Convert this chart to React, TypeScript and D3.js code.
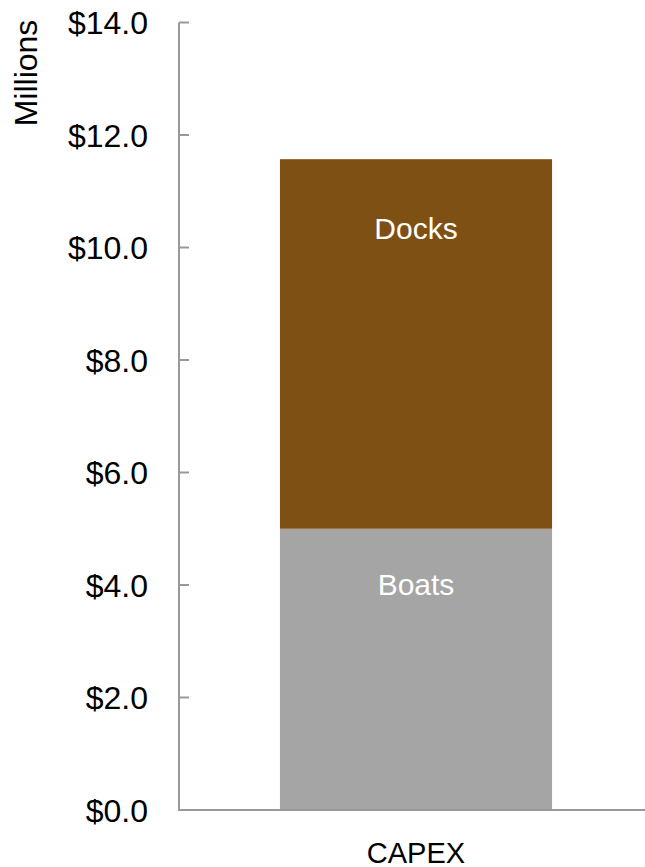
import React from "react";
import * as d3 from "d3";

const categories = ["CAPEX"];
const seriesNames = ["Boats", "Docks"];
const boatsValues = [5.0];
const docksValues = [6.57];
const yTicks = [0, 2, 4, 6, 8, 10, 12, 14];
const seriesColors = ["#A5A5A5", "#7F5014"];

export default function App() {
  const W = 645, H = 867;
  const y = d3.scaleLinear().domain([0, 14]).range([810, 22.5]);
  const x = d3.scaleBand().domain(categories).range([179, 653]).paddingInner(0).paddingOuter(0.371);
  const rows = categories.map((c, i) => ({ cat: c, Boats: boatsValues[i], Docks: docksValues[i] }));
  const stacked = d3.stack<any>().keys(seriesNames)(rows);
  const font = "Arial, 'Liberation Sans', sans-serif";
  const fmt = (v: number) => "$" + d3.format(".1f")(v);
  return (
    <svg width={W} height={H} style={{ position: "absolute", left: 0, top: 0, background: "#fff" }}>
      {stacked.map((s, si) =>
        s.map((d, i) => {
          const cat = categories[i];
          const bx = x(cat)!;
          const top = y(d[1]);
          const bot = y(d[0]);
          return (
            <g key={si + "-" + i}>
              <rect x={bx} y={top} width={x.bandwidth()} height={bot - top} fill={seriesColors[si]} />
              <text x={bx + x.bandwidth() / 2} y={si === 0 ? y(d[1]) + 66 : y(d[1]) + 80} fill="#fff" fontFamily={font} fontSize={30} textAnchor="middle">
                {seriesNames[si]}
              </text>
            </g>
          );
        })
      )}
      <line x1={179} x2={179} y1={y(14)} y2={y(0)} stroke="#999" strokeWidth={2} />
      <line x1={178} x2={645} y1={y(0)} y2={y(0)} stroke="#999" strokeWidth={2} />
      {yTicks.map((t) => (
        <g key={t}>
          <line x1={179} x2={189} y1={y(t)} y2={y(t)} stroke="#999" strokeWidth={2} />
          <text x={148} y={y(t)} dy="0.36em" textAnchor="end" fontFamily={font} fontSize={32} fill="#000">
            {fmt(t)}
          </text>
        </g>
      ))}
      {categories.map((c) => (
        <text key={c} x={x(c)! + x.bandwidth() / 2} y={863} textAnchor="middle" fontFamily={font} fontSize={29} fill="#000">
          {c}
        </text>
      ))}
      <text transform="translate(37,73) rotate(-90)" textAnchor="middle" fontFamily={font} fontSize={32} fill="#000">
        Millions
      </text>
    </svg>
  );
}
